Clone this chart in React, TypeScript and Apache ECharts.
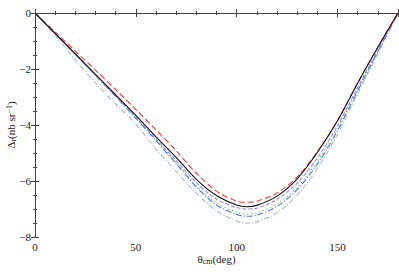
import React, { useEffect, useRef } from "react";
import * as echarts from "echarts";

const angles = [0, 10, 20, 30, 40, 50, 60, 70, 80, 90, 100, 105, 110, 120, 130, 140, 150, 160, 170, 180];
const blackVals = [0, -0.73, -1.46, -2.19, -2.92, -3.66, -4.42, -5.16, -5.94, -6.52, -6.86, -6.92, -6.87, -6.54, -5.92, -4.98, -3.85, -2.5, -1.22, 0];
const redVals = [0, -0.68, -1.36, -2.04, -2.74, -3.44, -4.17, -4.92, -5.72, -6.36, -6.72, -6.76, -6.72, -6.43, -5.86, -4.95, -3.85, -2.5, -1.22, 0];
const purpleVals = [0, -0.74, -1.48, -2.22, -2.96, -3.72, -4.5, -5.27, -6.06, -6.65, -6.95, -7.0, -6.97, -6.65, -6.08, -5.18, -4.03, -2.66, -1.32, 0];
const greenVals = [0, -0.74, -1.48, -2.22, -2.97, -3.74, -4.54, -5.34, -6.16, -6.78, -7.12, -7.18, -7.14, -6.81, -6.23, -5.3, -4.12, -2.72, -1.36, 0];
const blueVals = [0, -0.74, -1.48, -2.23, -2.98, -3.76, -4.56, -5.38, -6.22, -6.86, -7.2, -7.26, -7.22, -6.91, -6.31, -5.4, -4.2, -2.78, -1.38, 0];
const grayVals = [0, -0.8, -1.68, -2.5, -3.25, -3.97, -4.86, -5.66, -6.44, -7.06, -7.43, -7.5, -7.46, -7.13, -6.5, -5.56, -4.33, -2.88, -1.45, 0];

const xTicks = [0, 50, 100, 150];
const yTicks = [0, -2, -4, -6, -8];

const FONT = "Liberation Serif";

function pairs(vals: number[]) {
  return angles.map((a, i) => [a, vals[i]]);
}

export default function App() {
  const ref = useRef<HTMLDivElement>(null);
  useEffect(() => {
    document.body.style.margin = "0";
    const chart = echarts.init(ref.current!, null, { renderer: "svg" });
    const axisLine = { show: true, lineStyle: { color: "#444", width: 1 } };
    const tick = { show: true, inside: true, length: 4, lineStyle: { color: "#444" } };
    const minor = { show: true, splitNumber: 5, length: 2, lineStyle: { color: "#444" } };
    const yminor = { show: true, splitNumber: 4, length: 2, lineStyle: { color: "#444" } };
    const fmt = (v: number) => String(v).replace("-", "\u2212");
    const mk = (name: string, vals: number[], color: string, type: any, z: number) => ({
      name,
      type: "line",
      data: pairs(vals),
      smooth: 0.3,
      symbol: "none",
      z,
      lineStyle: { color, width: 1.1, type },
    });
    chart.setOption({
      animation: false,
      grid: { left: 35, right: 1, top: 13, bottom: 39, outerBoundsMode: "none", containLabel: false },
      xAxis: [
        {
          type: "value",
          min: 0,
          max: 180,
          interval: 50,
          axisLine,
          axisTick: tick,
          minorTick: minor,
          splitLine: { show: false },
          axisLabel: {
            color: "#222",
            fontFamily: FONT,
            fontSize: 11,
            margin: 4,
            formatter: (v: number) => (xTicks.includes(v) ? fmt(v) : ""),
          },
          name: "{a|\u03b8}{b|cm}{a|(deg)}",
          nameLocation: "middle",
          nameGap: 16,
          nameMoveOverlap: false,
          nameTextStyle: {
            verticalAlign: "top",
            rich: {
              a: { fontFamily: FONT, fontSize: 11, color: "#222", fontStyle: "normal" },
              b: { fontFamily: FONT, fontSize: 8, color: "#222", padding: [4, 0, 0, 0] },
            },
          },
        },
        {
          type: "value",
          position: "top",
          min: 0,
          max: 180,
          interval: 50,
          axisLine,
          axisTick: tick,
          minorTick: minor,
          splitLine: { show: false },
          axisLabel: { show: false },
        },
      ],
      yAxis: [
        {
          type: "value",
          min: -8,
          max: 0,
          interval: 2,
          axisLine,
          axisTick: tick,
          minorTick: yminor,
          splitLine: { show: false },
          axisLabel: {
            color: "#222",
            fontFamily: FONT,
            fontSize: 11,
            margin: 4,
            formatter: (v: number) => (yTicks.includes(v) ? fmt(v) : ""),
          },
          name: "{a|\u0394}{b|r}{a|(nb sr}{c|\u22121}{a|)}",
          nameLocation: "middle",
          nameGap: 18,
          nameMoveOverlap: false,
          nameRotate: 90,
          nameTextStyle: {
            verticalAlign: "bottom",
            rich: {
              a: { fontFamily: FONT, fontSize: 11, color: "#222" },
              b: { fontFamily: FONT, fontSize: 8, color: "#222", padding: [4, 0, 0, 0] },
              c: { fontFamily: FONT, fontSize: 8, color: "#222", padding: [0, 0, 4, 0] },
            },
          },
        },
        {
          type: "value",
          position: "right",
          min: -8,
          max: 0,
          interval: 2,
          axisLine,
          axisTick: tick,
          minorTick: yminor,
          splitLine: { show: false },
          axisLabel: { show: false },
        },
      ],
      series: [
        mk("gray", grayVals, "#a9bac6", [5, 2, 1, 2], 2),
        mk("blue", blueVals, "#4f73ee", [6, 2, 1, 2], 3),
        mk("green", greenVals, "#3fbf3f", [1, 3], 4),
        mk("purple", purpleVals, "#9a86e6", [4, 2], 5),
        mk("red", redVals, "#ff3a3a", [6, 3], 6),
        mk("black", blackVals, "#111", "solid", 7),
      ],
    });
    return () => chart.dispose();
  }, []);
  return <div ref={ref} style={{ width: 399, height: 276 }} />;
}
